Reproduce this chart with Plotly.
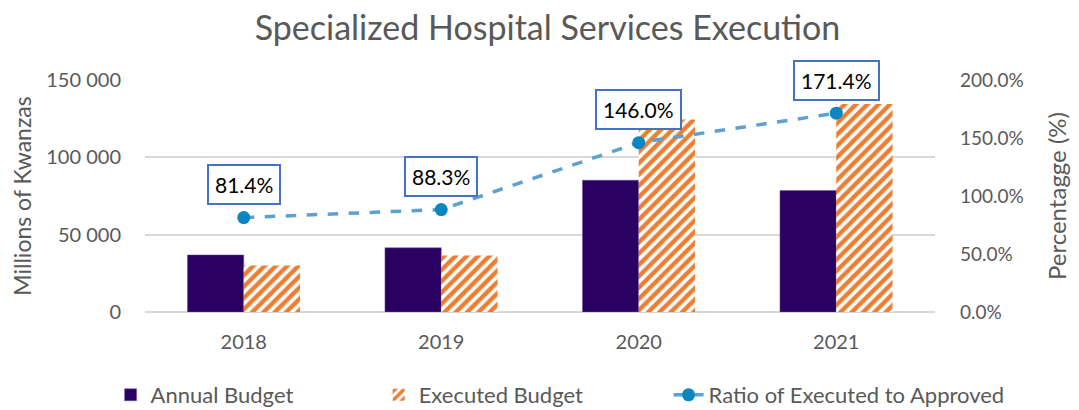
import plotly.graph_objects as go

years = [2018, 2019, 2020, 2021]
year_labels = ["2018", "2019", "2020", "2021"]
annual_budget = [36900, 41500, 85200, 78500]
executed_budget = [30000, 36600, 124400, 134500]
ratio = [0.814, 0.883, 1.460, 1.714]
ratio_labels = ["81.4%", "88.3%", "146.0%", "171.4%"]

FONT = "Lato"
GREY = "#595959"

fig = go.Figure()
fig.add_trace(go.Bar(
    x=years, y=annual_budget, name="Annual Budget", legend="legend", showlegend=True,
    marker=dict(color="#2B0063", line=dict(color="#6E55A0", width=0.5)),
))
fig.add_trace(go.Bar(
    x=years, y=executed_budget, name="Executed Budget", legend="legend2", showlegend=True,
    marker=dict(color="#ED7D31", line=dict(width=0),
                pattern=dict(shape="/", fgcolor="#ED7D31", bgcolor="white",
                             fgopacity=1, fillmode="replace",
                             size=8, solidity=0.55)),
))
fig.add_trace(go.Scatter(
    x=years, y=ratio, name="Ratio of Executed to Approved", yaxis="y2",
    legend="legend3", showlegend=True,
    mode="lines+markers",
    line=dict(color="#5DA2CF", width=3.5, dash="dash"),
    marker=dict(color="#0A86C2", size=13),
))

for yr, r, lab in zip(years, ratio, ratio_labels):
    fig.add_annotation(
        x=yr, y=r, xref="x", yref="y2", text=lab, showarrow=False,
        yshift=33, font=dict(family=FONT, size=21, color="black"),
        bordercolor="#4472C4", borderwidth=2, borderpad=6, bgcolor="white",
    )

legend_common = dict(orientation="h", xref="container", yref="container",
                     xanchor="left", y=0.0561, yanchor="middle",
                     font=dict(size=22, color=GREY, family=FONT), bgcolor="rgba(0,0,0,0)")

fig.update_layout(
    width=1079, height=410, showlegend=True,
    paper_bgcolor="white", plot_bgcolor="white",
    margin=dict(l=137, r=152, t=72, b=106, autoexpand=False),
    separators=". ",
    barmode="group", bargap=0.43, bargroupgap=0,
    font=dict(family=FONT, color=GREY, size=18),
    title=dict(text="Specialized Hospital Services Execution", x=0.5, xanchor="center",
               xref="container", yref="container", y=0.95, yanchor="middle",
               font=dict(family=FONT, size=34, color=GREY)),
    xaxis=dict(type="linear", range=[2017.5, 2021.5], tickvals=years, ticktext=year_labels,
               showgrid=False, showline=False, ticks="", zeroline=False,
               tickfont=dict(size=20, color=GREY), ticklabelstandoff=16),
    yaxis=dict(range=[0, 150000], dtick=50000, tickformat=",d",
               showgrid=True, gridcolor="#D9D9D9", gridwidth=1.5,
               zeroline=True, zerolinecolor="#D9D9D9", zerolinewidth=1.5,
               title=dict(text="Millions of Kwanzas", font=dict(size=23, color=GREY), standoff=13),
               tickfont=dict(size=20, color=GREY), ticks="", ticklabelstandoff=23),
    yaxis2=dict(range=[0, 2.0], dtick=0.5, tickformat=".1%", overlaying="y", side="right",
                showgrid=False, zeroline=False,
                title=dict(text="Percentagge (%)", font=dict(size=24, color=GREY), standoff=26),
                tickfont=dict(size=19, color=GREY), ticklabelstandoff=24),
    legend=dict(x=0.0951, **legend_common),
    legend2=dict(x=0.3435, **legend_common),
    legend3=dict(x=0.6122, **legend_common),
)

fig.write_html("out.html")
